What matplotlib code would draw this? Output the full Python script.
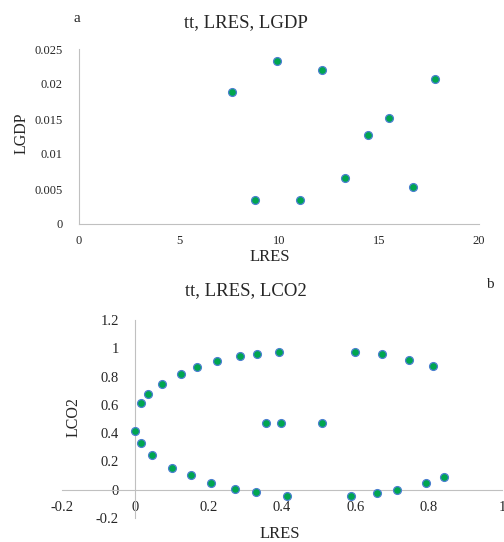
import numpy as np
import matplotlib.pyplot as plt

plt.rcParams['font.family'] = ['Liberation Serif', 'DejaVu Serif']

# panel a: tt, LRES, LGDP
lres_a = [7.65, 8.8, 9.9, 11.05, 12.15, 13.3, 14.45, 15.5, 16.7, 17.8]
lgdp_a = [0.0189, 0.0035, 0.0233, 0.0035, 0.0220, 0.0066, 0.0127, 0.0152, 0.0053, 0.0207]
xticks_a = [0, 5, 10, 15, 20]
yticks_a = [0, 0.005, 0.01, 0.015, 0.02, 0.025]
ylabels_a = ['0', '0.005', '0.01', '0.015', '0.02', '0.025']

# panel b: tt, LRES, LCO2
lres_b = [0.0, 0.015, 0.035, 0.072, 0.124, 0.168, 0.224, 0.285, 0.333, 0.393,
          0.600, 0.673, 0.745, 0.811, 0.355, 0.397, 0.508,
          0.015, 0.045, 0.100, 0.151, 0.207, 0.271, 0.329, 0.413,
          0.589, 0.660, 0.713, 0.794, 0.843]
lco2_b = [0.414, 0.614, 0.678, 0.746, 0.821, 0.866, 0.911, 0.944, 0.962, 0.976,
          0.976, 0.960, 0.918, 0.875, 0.473, 0.473, 0.473,
          0.332, 0.247, 0.153, 0.101, 0.047, 0.007, -0.016, -0.042,
          -0.042, -0.021, -0.002, 0.047, 0.092]
xticks_b = [-0.2, 0, 0.2, 0.4, 0.6, 0.8, 1.0]
xlabels_b = ['-0.2', '0', '0.2', '0.4', '0.6', '0.8', '1']
yticks_b = [-0.2, 0, 0.2, 0.4, 0.6, 0.8, 1.0, 1.2]
ylabels_b = ['-0.2', '0', '0.2', '0.4', '0.6', '0.8', '1', '1.2']

fill = '#00a64f'
edge = '#4a7fd0'
spine_col = '#c0c0c0'
txt_col = '#262626'

fig = plt.figure(figsize=(5.04, 5.42), dpi=100)
W, H = 504, 542

def px_axes(l, t, r, b):
    return fig.add_axes([l / W, 1 - b / H, (r - l) / W, (b - t) / H])

# ---- panel a
ax = px_axes(79, 49, 479, 224)
ax.scatter(lres_a, lgdp_a, s=32, c=fill, edgecolors=edge, linewidths=0.9, zorder=3)
ax.set_xlim(0, 20)
ax.set_ylim(0, 0.025)
ax.set_xticks(xticks_a)
ax.set_yticks(yticks_a)
ax.set_yticklabels(ylabels_a)
for s in ['top', 'right']:
    ax.spines[s].set_visible(False)
for s in ['left', 'bottom']:
    ax.spines[s].set_color(spine_col)
ax.tick_params(length=0, labelsize=9, colors=txt_col)
ax.tick_params(axis='y', pad=12)
ax.tick_params(axis='x', pad=8)
fig.text(246 / W, 1 - 23 / H, 'tt, LRES, LGDP', ha='center', va='center', fontsize=13.5, color=txt_col)
fig.text(77 / W, 1 - 18 / H, 'a', ha='center', va='center', fontsize=11, color=txt_col)
fig.text(270 / W, 1 - 257 / H, 'LRES', ha='center', va='center', fontsize=12, color=txt_col)
fig.text(22 / W, 1 - 133 / H, 'LGDP', ha='center', va='center', rotation=90, fontsize=11.5, color=txt_col)

# ---- panel b
ax2 = px_axes(62, 320, 502, 518)
ax2.scatter(lres_b, lco2_b, s=32, c=fill, edgecolors=edge, linewidths=0.9, zorder=3)
ax2.set_xlim(-0.2, 1.0)
ax2.set_ylim(-0.2, 1.2)
ax2.set_xticks(xticks_b)
ax2.set_xticklabels(xlabels_b)
ax2.set_yticks(yticks_b)
ax2.set_yticklabels(ylabels_b)
for s in ['top', 'right']:
    ax2.spines[s].set_visible(False)
for s in ['left', 'bottom']:
    ax2.spines[s].set_color(spine_col)
    ax2.spines[s].set_position(('data', 0))
ax2.tick_params(length=0, labelsize=10.5, colors=txt_col)
ax2.tick_params(axis='y', pad=12)
ax2.tick_params(axis='x', pad=8)
fig.text(246 / W, 1 - 291 / H, 'tt, LRES, LCO2', ha='center', va='center', fontsize=13.5, color=txt_col)
fig.text(490 / W, 1 - 284 / H, 'b', ha='center', va='center', fontsize=11, color=txt_col)
fig.text(280 / W, 1 - 534 / H, 'LRES', ha='center', va='center', fontsize=12, color=txt_col)
fig.text(74 / W, 1 - 417 / H, 'LCO2', ha='center', va='center', rotation=90, fontsize=11.5, color=txt_col)

fig.savefig('out.png', dpi=100)
